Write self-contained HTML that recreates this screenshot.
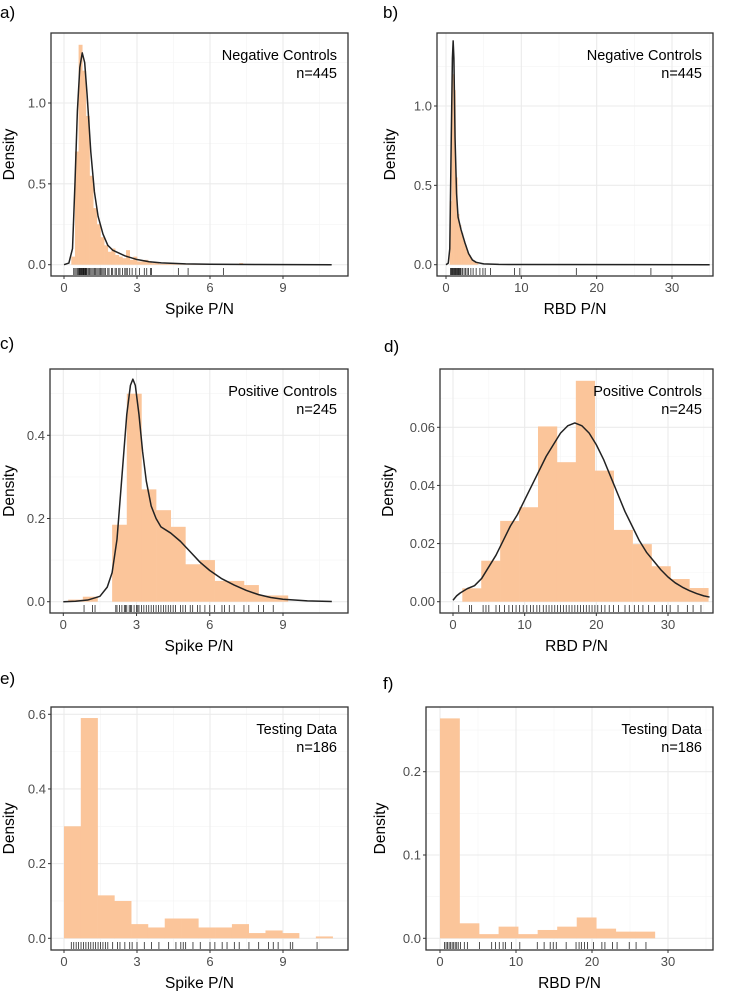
<!DOCTYPE html>
<html><head><meta charset="utf-8"><style>
body{margin:0;background:#fff;}
svg{display:block;font-family:"Liberation Sans",sans-serif;}
</style></head><body>
<svg id="fig" width="731" height="991" viewBox="0 0 731 991" xmlns="http://www.w3.org/2000/svg"></svg>
<script>
// ---- data ----
const aBinStart = 0.3, aBinW = 0.15;
const aBins = [0.05,0.7,1.36,1.2,0.92,0.55,0.35,0.25,0.17,0.12,0.08,0.1,0.06,0.05,0.04,0.09,0.03,0.05,0.02,0.02,0.03,0.02,0.01,0.01,0.005,0.005,0.005,0.005,0.005,0.005,0.005,0.005,0.005,0.005,0.005,0.005,0.005,0.005,0.005,0.005,0,0,0,0,0,0,0.01];
const aCurveX = [0,0.2,0.35,0.45,0.55,0.65,0.75,0.85,0.95,1.1,1.25,1.4,1.6,1.8,2.0,2.5,3,3.5,4,5,6,8,11];
const aCurveY = [0,0.01,0.1,0.5,0.95,1.22,1.31,1.25,1.05,0.7,0.45,0.3,0.19,0.12,0.09,0.055,0.032,0.018,0.011,0.005,0.003,0.001,0];
const aRug = [0.4,0.45,0.5,0.55,0.6,0.62,0.65,0.68,0.7,0.72,0.75,0.78,0.8,0.82,0.85,0.88,0.9,0.93,0.95,1.0,1.05,1.1,1.15,1.2,1.25,1.3,1.35,1.4,1.45,1.5,1.55,1.6,1.65,1.7,1.8,1.85,1.95,2.0,2.1,2.15,2.25,2.3,2.4,2.5,2.55,2.6,2.7,2.8,2.95,3.1,3.3,3.4,3.55,3.6,4.7,5.1,6.55];
const bBinStart = 0.5, bBinW = 0.25;
const bBins = [0.4,1.2,1.1,0.55,0.32,0.25,0.2,0.15,0.12,0.08,0.06,0.04,0.02,0.015,0.01];
const bCurveX = [0,0.3,0.5,0.7,0.85,0.95,1.05,1.2,1.4,1.6,2,2.5,3,3.5,4,5,7,10,35];
const bCurveY = [0,0.01,0.1,0.8,1.3,1.41,1.3,0.8,0.45,0.3,0.22,0.14,0.07,0.03,0.015,0.005,0.002,0.001,0];
const bRug = [0.6,0.7,0.8,0.9,1.0,1.1,1.2,1.3,1.4,1.5,1.6,1.7,1.8,1.9,2.0,2.2,2.4,2.6,2.8,3.0,3.3,3.6,4.0,4.5,4.9,5.2,5.9,9.1,9.8,17.3,27.2];
const cBinStart = 0.2, cBinW = 0.6;
const cBins = [0.005,0.012,0,0.185,0.5,0.27,0.22,0.18,0.09,0.1,0.05,0.05,0.04,0.015,0.015];
const cCurveX = [0,0.5,1,1.5,1.8,2.0,2.2,2.4,2.6,2.75,2.85,2.95,3.1,3.25,3.4,3.6,3.8,4.0,4.4,4.8,5.2,5.6,6,6.5,7,7.5,8,8.5,9,10,11];
const cCurveY = [0,0.001,0.004,0.013,0.035,0.07,0.15,0.3,0.45,0.52,0.535,0.52,0.45,0.36,0.29,0.23,0.2,0.18,0.165,0.145,0.12,0.095,0.075,0.055,0.04,0.027,0.017,0.01,0.006,0.002,0.0005];
const cRug = [0.85,1.2,1.3,2.15,2.2,2.3,2.4,2.5,2.55,2.6,2.7,2.75,2.8,2.9,3.0,3.05,3.1,3.2,3.3,3.4,3.5,3.6,3.7,3.8,3.9,4.0,4.1,4.2,4.3,4.4,4.5,4.6,4.8,4.9,5.0,5.2,5.3,5.5,5.6,5.8,6.0,6.2,6.5,6.6,6.8,7.0,7.4,7.6,8.0,8.2,8.6];
const dBinStart = 1.3, dBinW = 2.64;
const dBins = [0.0046,0.0141,0.0278,0.0325,0.0603,0.048,0.076,0.0451,0.0247,0.0198,0.0122,0.0078,0.0047];
const dCurveX = [0,0.5,1,2,3,4,5,6,7,8,9,10,11,12,13,14,15,16,17,18,19,20,21,22,23,24,25,26,27,28,29,30,31,32,33,34,35,35.8];
const dCurveY = [0.0005,0.002,0.003,0.0045,0.0055,0.008,0.012,0.016,0.021,0.026,0.03,0.035,0.040,0.045,0.050,0.054,0.058,0.0605,0.0615,0.0605,0.058,0.054,0.049,0.043,0.037,0.031,0.026,0.021,0.017,0.014,0.011,0.0085,0.0065,0.005,0.0038,0.0028,0.002,0.0016];
const dRug = [0.8,2.3,2.6,4.2,4.6,5.0,6.0,6.5,7.2,7.8,8.3,8.8,9.3,9.8,10.3,10.8,11.2,11.7,12.1,12.6,13.0,13.4,13.8,14.2,14.6,15.0,15.4,15.8,16.2,16.6,17.0,17.4,17.8,18.2,18.6,19.0,19.4,19.8,20.2,20.7,21.2,21.8,22.4,23.1,24.0,24.6,25.3,25.9,26.5,27.3,28.1,29.2,29.8,30.3,31.4,32.7,33.5,34.6];
const eBinStart = 0, eBinW = 0.69;
const eBins = [0.3,0.59,0.115,0.1,0.038,0.029,0.053,0.053,0.029,0.029,0.038,0.014,0.021,0.014,0,0.005];
const eRug = [0.3,0.4,0.5,0.6,0.7,0.8,0.9,1.0,1.1,1.2,1.3,1.4,1.5,1.6,1.7,1.8,2.0,2.2,2.3,2.5,2.7,2.8,3.0,3.3,3.6,3.9,4.3,4.6,4.8,4.9,5.0,5.3,5.6,6.0,6.2,6.5,6.7,7.0,7.2,7.6,8.0,8.4,8.6,8.8,9.3,9.4,10.4];
const fBinStart = 0, fBinW = 2.57;
const fBins = [0.264,0.018,0.005,0.014,0.005,0.01,0.014,0.025,0.0116,0.008,0.008];
const fRug = [0.6,0.8,1.0,1.2,1.4,1.6,1.8,2.0,2.2,2.4,2.7,3.2,3.6,5.2,6.8,7.3,7.8,8.3,8.6,9.4,10.5,12.8,13.7,14.5,14.9,15.3,16.6,17.9,18.3,18.6,19.0,19.4,20.2,21.3,21.7,22.7,23.3,24.9,25.8,27.1];

const NS = "http://www.w3.org/2000/svg";
const svg = document.getElementById('fig');
function mk(tag, attrs, parent){const e=document.createElementNS(NS,tag);for(const k in attrs)e.setAttribute(k,attrs[k]);(parent||svg).appendChild(e);return e;}

function panel(p){
  const g = mk('g',{});
  
  
  const sx = v => p.x0px + v * (p.x1px - p.x0px) / p.x1val;
  const sy = v => p.y0px - v * (p.y0px - p.y1px) / p.y1val;
  mk('rect',{x:p.L,y:p.T,width:p.R-p.L,height:p.B-p.T,fill:'#fff'},g);
  p.xMinor.forEach(v=>{const x=sx(v);if(x>p.L&&x<p.R)mk('line',{x1:x,x2:x,y1:p.T,y2:p.B,stroke:'#f4f4f4','stroke-width':0.6},g);});
  p.yMinor.forEach(v=>{const y=sy(v);if(y>p.T&&y<p.B)mk('line',{x1:p.L,x2:p.R,y1:y,y2:y,stroke:'#f4f4f4','stroke-width':0.6},g);});
  p.xTicks.forEach(v=>{const x=sx(v);mk('line',{x1:x,x2:x,y1:p.T,y2:p.B,stroke:'#ebebeb','stroke-width':1.1},g);});
  p.yTicks.forEach(v=>{const y=sy(v);mk('line',{x1:p.L,x2:p.R,y1:y,y2:y,stroke:'#ebebeb','stroke-width':1.1},g);});
  p.bins.forEach((h,i)=>{
    if(h<=0) return;
    const xa = sx(p.binStart + i*p.binW), xb = sx(p.binStart + (i+1)*p.binW);
    const r = mk('rect',{x:xa,y:sy(h),width:xb-xa+0.3,height:sy(0)-sy(h),fill:'#fbc59a'},g);
    
    
  });
  if(p.cx){
    let d='';
    p.cx.forEach((v,i)=>{d+=(i?'L':'M')+sx(v).toFixed(2)+','+sy(p.cy[i]).toFixed(2);});
    const c = mk('path',{d:d,fill:'none',stroke:'#222','stroke-width':1.5,'stroke-linejoin':'round'},g);
    
    
  }
  p.rug.forEach(v=>{
    const x=sx(v);
    const t = mk('line',{x1:x,x2:x,y1:p.B-8,y2:p.B-1,stroke:'#000','stroke-width':0.8,'stroke-opacity':0.85},g);
    
    
  });
  mk('rect',{x:p.L,y:p.T,width:p.R-p.L,height:p.B-p.T,fill:'none',stroke:'#333','stroke-width':1.3},g);
  p.xTicks.forEach((v,i)=>{const x=sx(v);
    mk('line',{x1:x,x2:x,y1:p.B,y2:p.B+3,stroke:'#333','stroke-width':1},g);
    const t=mk('text',{x:x,y:p.B+16,'text-anchor':'middle','font-size':13,fill:'#4d4d4d'},g);t.textContent=p.xLabels[i];
    
    
  });
  p.yTicks.forEach((v,i)=>{const y=sy(v);
    mk('line',{x1:p.L-3,x2:p.L,y1:y,y2:y,stroke:'#333','stroke-width':1},g);
    const t=mk('text',{x:p.L-5,y:y+4.5,'text-anchor':'end','font-size':13,fill:'#4d4d4d'},g);t.textContent=p.yLabels[i];
    
    
  });
  const xt=mk('text',{x:(p.L+p.R)/2,y:p.B+38,'text-anchor':'middle','font-size':15.5,fill:'#000'},g);xt.textContent=p.xTitle;
  
  
  const yc=(p.T+p.B)/2;
  const yt=mk('text',{x:p.yTitleX,y:yc,'text-anchor':'middle','font-size':15.5,fill:'#000',transform:'rotate(-90 '+p.yTitleX+' '+yc+')'},g);yt.textContent='Density';
  
  
  const a1=mk('text',{x:p.R-11,y:p.T+27,'text-anchor':'end','font-size':14.5,fill:'#000'},g);a1.textContent=p.ann1;
  
  
  const a2=mk('text',{x:p.R-11,y:p.T+45,'text-anchor':'end','font-size':14.5,fill:'#000'},g);a2.textContent=p.ann2;
  
  
  const pl=mk('text',{x:p.labX,y:p.labY,'font-size':17,fill:'#000'},g);pl.textContent=p.id+')';
  
  
}

const spikeX={xTicks:[0,3,6,9],xLabels:['0','3','6','9'],xMinor:[1.5,4.5,7.5,10.5],x1val:9,xTitle:'Spike P/N'};
const rbdX={xTicks:[0,10,20,30],xLabels:['0','10','20','30'],xMinor:[5,15,25,35],x1val:30,xTitle:'RBD P/N'};

panel(Object.assign({id:'a',L:51,R:348,T:33,B:276,x0px:64,x1px:283,y0px:264.7,y1px:103,y1val:1.0,
  yTicks:[0,0.5,1.0],yLabels:['0.0','0.5','1.0'],yMinor:[0.25,0.75,1.25],
  bins:aBins,binStart:aBinStart,binW:aBinW,cx:aCurveX,cy:aCurveY,rug:aRug,
  yTitleX:14,ann1:'Negative Controls',ann2:'n=445',labX:0,labY:18},spikeX));
panel(Object.assign({id:'b',L:437,R:713,T:33,B:276,x0px:446,x1px:672,y0px:264.7,y1px:106,y1val:1.0,
  yTicks:[0,0.5,1.0],yLabels:['0.0','0.5','1.0'],yMinor:[0.25,0.75,1.25],
  bins:bBins,binStart:bBinStart,binW:bBinW,cx:bCurveX,cy:bCurveY,rug:bRug,
  yTitleX:395,ann1:'Negative Controls',ann2:'n=445',labX:383,labY:18},rbdX));
panel(Object.assign({id:'c',L:50,R:348,T:369,B:613,x0px:63.3,x1px:283,y0px:601.7,y1px:435.3,y1val:0.4,
  yTicks:[0,0.2,0.4],yLabels:['0.0','0.2','0.4'],yMinor:[0.1,0.3,0.5],
  bins:cBins,binStart:cBinStart,binW:cBinW,cx:cCurveX,cy:cCurveY,rug:cRug,
  yTitleX:14,ann1:'Positive Controls',ann2:'n=245',labX:0,labY:349},spikeX));
panel(Object.assign({id:'d',L:440,R:713,T:369,B:613,x0px:453,x1px:668,y0px:601.7,y1px:427.3,y1val:0.06,
  yTicks:[0,0.02,0.04,0.06],yLabels:['0.00','0.02','0.04','0.06'],yMinor:[0.01,0.03,0.05,0.07],
  bins:dBins,binStart:dBinStart,binW:dBinW,cx:dCurveX,cy:dCurveY,rug:dRug,
  yTitleX:393,ann1:'Positive Controls',ann2:'n=245',labX:384,labY:352},rbdX));
panel(Object.assign({id:'e',L:51,R:348,T:707,B:950,x0px:64,x1px:283,y0px:938.3,y1px:714.3,y1val:0.6,
  yTicks:[0,0.2,0.4,0.6],yLabels:['0.0','0.2','0.4','0.6'],yMinor:[0.1,0.3,0.5],
  bins:eBins,binStart:eBinStart,binW:eBinW,cx:null,cy:null,rug:eRug,
  yTitleX:14,ann1:'Testing Data',ann2:'n=186',labX:0,labY:684},spikeX));
panel(Object.assign({id:'f',L:426,R:713,T:707,B:950,x0px:440,x1px:668,y0px:938.3,y1px:771.7,y1val:0.2,
  yTicks:[0,0.1,0.2],yLabels:['0.0','0.1','0.2'],yMinor:[0.05,0.15,0.25],
  bins:fBins,binStart:fBinStart,binW:fBinW,cx:null,cy:null,rug:fRug,
  yTitleX:385,ann1:'Testing Data',ann2:'n=186',labX:383,labY:689},rbdX));
</script>
</body></html>
